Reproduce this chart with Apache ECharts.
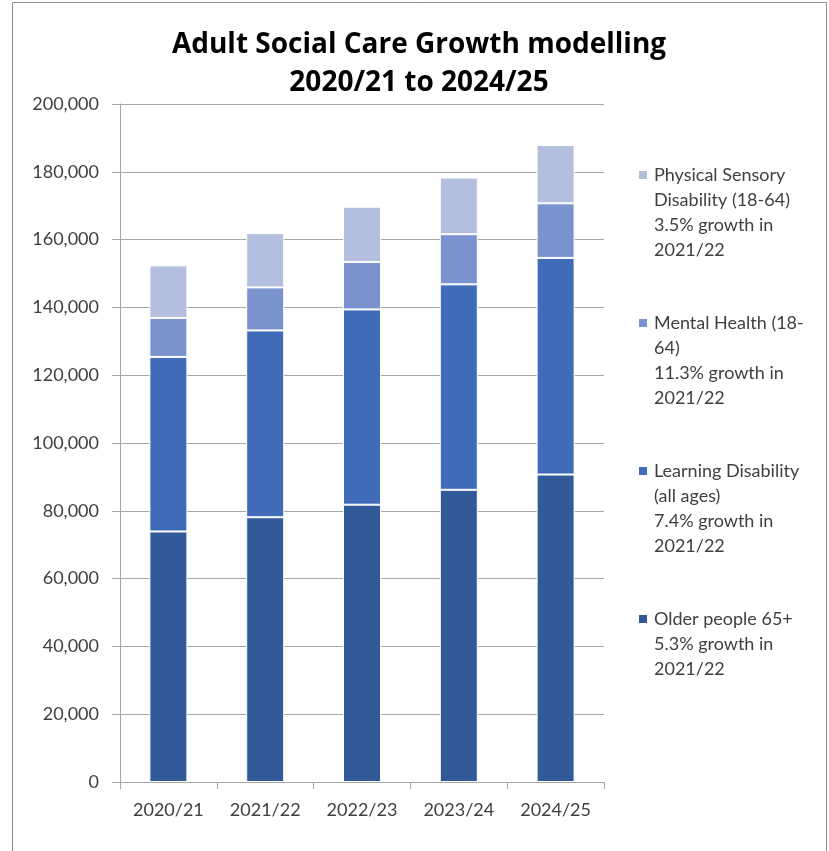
<!DOCTYPE html>
<html>
<head>
<meta charset="utf-8">
<title>Adult Social Care Growth modelling</title>
<script src="https://cdn.jsdelivr.net/npm/echarts@6/dist/echarts.min.js"></script>
<style>
  html, body { margin: 0; padding: 0; background: #ffffff; }
  #chart { width: 829px; height: 851px; }
</style>
</head>
<body>
<div id="chart"></div>
<script>
// Financial years on the category axis
const years = ['2020/21', '2021/22', '2022/23', '2023/24', '2024/25'];

// Projected client numbers per care group (stacked bottom to top)
const olderPeople = [73900, 78100, 81800, 86200, 90700];
const learningDisability = [51500, 55100, 57600, 60600, 63900];
const mentalHealth = [11500, 12700, 14000, 14800, 16100];
const physicalSensory = [15500, 16000, 16300, 16700, 17200];

// Series names and the wrapped legend wording for each
const seriesNames = ['Older people 65+', 'Learning Disability (all ages)', 'Mental Health (18-64)', 'Physical Sensory Disability (18-64)'];
const legendOlder = ['Older people 65+', '5.3% growth in', '2021/22'];
const legendLearning = ['Learning Disability', '(all ages)', '7.4% growth in', '2021/22'];
const legendMental = ['Mental Health (18-', '64)', '11.3% growth in', '2021/22'];
const legendPhysical = ['Physical Sensory', 'Disability (18-64)', '3.5% growth in', '2021/22'];

// Y axis scale
const yMin = 0;
const yMax = 200000;
const yStep = 20000;

const colors = ['#335a98', '#3f6bb8', '#7a93ce', '#b4bfdf'];
const FONT = 'Lato, "Open Sans", "Liberation Sans", sans-serif';
const TITLE_FONT = '"Open Sans", Lato, "Liberation Sans", sans-serif';

const legendLines = {};
legendLines[seriesNames[0]] = legendOlder;
legendLines[seriesNames[1]] = legendLearning;
legendLines[seriesNames[2]] = legendMental;
legendLines[seriesNames[3]] = legendPhysical;

// Rich-text styles: a colour square on the first line, blank indent on the rest
const legendRich = {
  t: { fontFamily: FONT, fontSize: 18, lineHeight: 25, color: '#404040' },
  pad: { width: 7, height: 8, lineHeight: 25 },
  blank: { width: 8, height: 8, lineHeight: 25 }
};
seriesNames.forEach(function (n, i) {
  legendRich['sq' + i] = { width: 8, height: 8, backgroundColor: colors[i], lineHeight: 25 };
});

const values = [olderPeople, learningDisability, mentalHealth, physicalSensory];

const chart = echarts.init(document.getElementById('chart'), null, { renderer: 'canvas' });

chart.setOption({
  animation: false,
  backgroundColor: '#ffffff',
  color: colors,
  title: {
    text: 'Adult Social Care Growth modelling\n2020/21 to 2024/25',
    left: 419,
    top: 26,
    textAlign: 'center',
    padding: 0,
    textStyle: {
      fontFamily: TITLE_FONT,
      fontSize: 28,
      fontWeight: 'bold',
      color: '#000000',
      lineHeight: 38
    }
  },
  legend: {
    orient: 'vertical',
    left: 634,
    top: 166,
    padding: 0,
    itemGap: 55,
    itemWidth: 0,
    itemHeight: 0,
    icon: 'none',
    selectedMode: false,
    data: [seriesNames[3], seriesNames[2], seriesNames[1], seriesNames[0]],
    formatter: function (name) {
      const idx = seriesNames.indexOf(name);
      return legendLines[name].map(function (line, k) {
        return (k === 0 ? '{sq' + idx + '| }' : '{blank| }') + '{pad| }{t|' + line + '}';
      }).join('\n');
    },
    textStyle: {
      fontFamily: FONT,
      fontSize: 18,
      color: '#404040',
      rich: legendRich
    }
  },
  grid: {
    left: 120,
    right: 225,
    top: 104,
    bottom: 69,
    containLabel: false
  },
  xAxis: {
    type: 'category',
    data: years,
    axisLine: { show: true, lineStyle: { color: '#a6a6a6', width: 1 } },
    axisTick: { show: true, length: 7, alignWithLabel: false, lineStyle: { color: '#a6a6a6' } },
    axisLabel: {
      margin: 19,
      fontFamily: FONT,
      fontSize: 18,
      color: '#404040'
    },
    splitLine: { show: false }
  },
  yAxis: {
    type: 'value',
    min: yMin,
    max: yMax,
    interval: yStep,
    axisLine: { show: true, lineStyle: { color: '#a6a6a6', width: 1 } },
    axisTick: { show: true, length: 8, lineStyle: { color: '#a6a6a6' } },
    axisLabel: {
      margin: 21,
      fontFamily: FONT,
      fontSize: 18,
      color: '#404040',
      formatter: function (v) { return v.toLocaleString('en-US'); }
    },
    splitLine: { show: true, lineStyle: { color: '#a6a6a6', width: 1 } }
  },
  series: seriesNames.map(function (name, i) {
    return {
      name: name,
      type: 'bar',
      stack: 'total',
      barWidth: 38,
      data: values[i],
      itemStyle: { color: colors[i], borderColor: '#ffffff', borderWidth: 1 },
      emphasis: { disabled: true }
    };
  }),
  graphic: [{
    type: 'rect',
    silent: true,
    shape: { x: 12.5, y: 2.5, width: 814, height: 900 },
    style: { fill: 'none', stroke: '#8c8c8c', lineWidth: 1 }
  }]
});
</script>
</body>
</html>
